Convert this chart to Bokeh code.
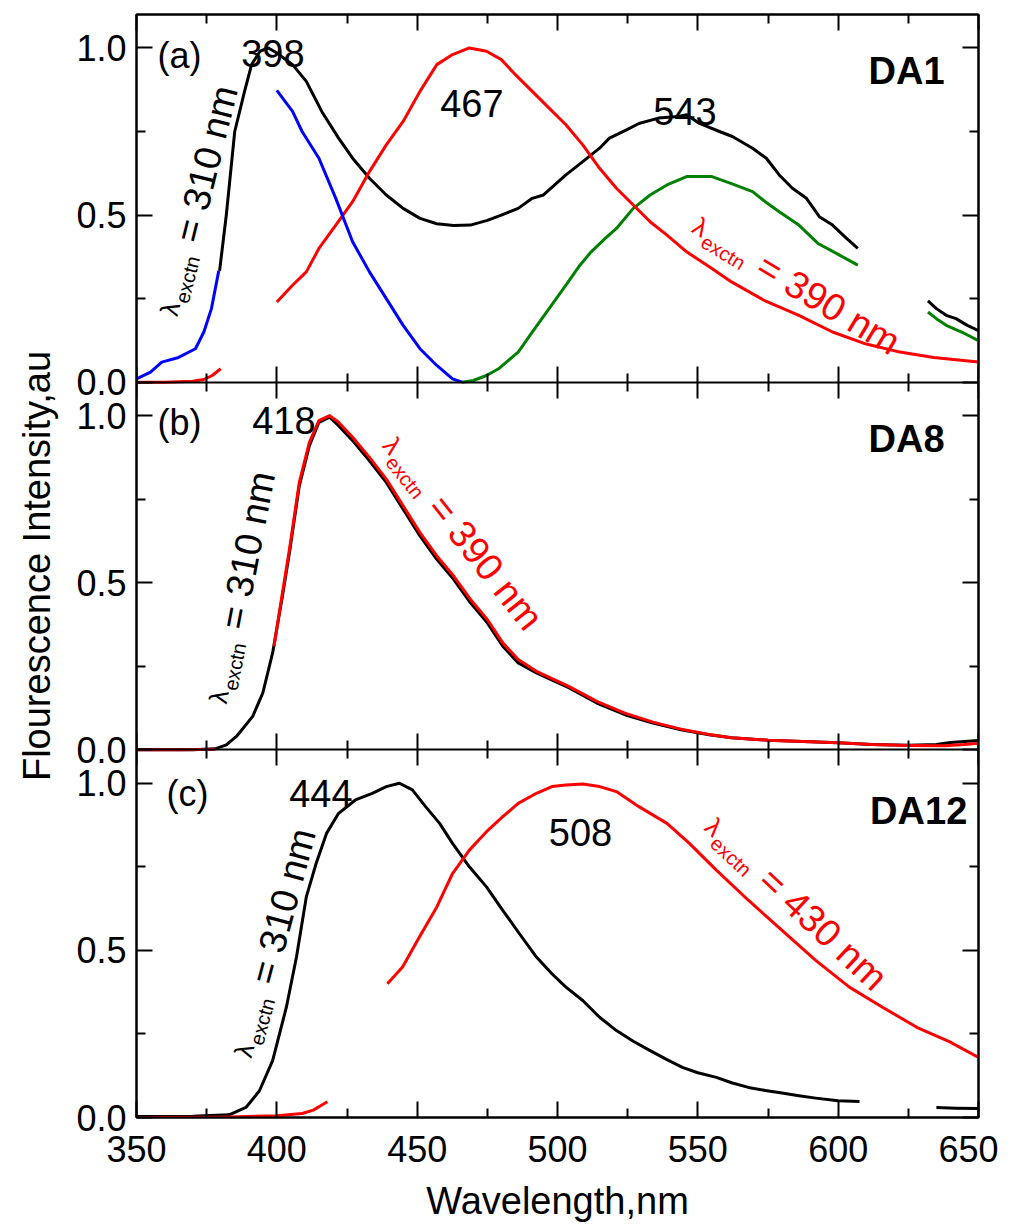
import numpy as np
from bokeh.plotting import figure
from bokeh.models import Range1d, LinearAxis, FixedTicker
from bokeh.core.properties import value
from bokeh.embed import file_html
from bokeh.resources import INLINE

# ---------------- data ----------------
x_major = [350, 400, 450, 500, 550, 600, 650]
x_minor = [375, 425, 475, 525, 575, 625]
y_major_vals = [0.0, 0.5, 1.0]
y_major_text = ["0.0", "0.5", "1.0"]
y_minor_vals = [0.25, 0.75]

# Panel (a) DA1
a_black1_wl = [379.6, 382, 385, 388.5, 391, 394, 397, 400, 405.6, 410.5, 416, 422, 427, 433, 439, 445, 451, 457, 463, 469, 475, 480, 486, 491, 495, 503, 509, 515, 518.5, 524.6, 529, 536, 543, 546, 550.6, 557.7, 562.3, 569.5, 574.4, 579, 583.7, 588.7, 593.3, 598, 603, 607]
a_black1_y = [0.333, 0.5, 0.75, 0.87, 0.95, 0.99, 1.0, 0.985, 0.95, 0.9, 0.81, 0.73, 0.67, 0.61, 0.56, 0.52, 0.49, 0.474, 0.469, 0.47, 0.484, 0.5, 0.52, 0.55, 0.56, 0.62, 0.66, 0.7, 0.73, 0.755, 0.774, 0.79, 0.795, 0.8, 0.774, 0.75, 0.735, 0.7, 0.67, 0.62, 0.58, 0.55, 0.495, 0.47, 0.43, 0.4]
a_black2_wl = [632, 635, 638.5, 642, 646, 650]
a_black2_y = [0.243, 0.22, 0.2, 0.19, 0.17, 0.154]
a_green1_wl = [466, 470, 474.7, 479, 486, 491, 497, 503, 508, 512, 517, 521, 527, 533, 539, 546, 550, 555, 562, 569.5, 574, 579, 586, 593, 600.5, 607]
a_green1_y = [0.0, 0.005, 0.02, 0.04, 0.09, 0.15, 0.22, 0.29, 0.35, 0.39, 0.43, 0.46, 0.52, 0.56, 0.59, 0.615, 0.615, 0.615, 0.594, 0.57, 0.54, 0.51, 0.47, 0.414, 0.38, 0.35]
a_green2_wl = [632, 635, 638.5, 644, 650]
a_green2_y = [0.21, 0.19, 0.17, 0.15, 0.124]
a_blue1_wl = [350, 355, 359, 365, 371, 374, 376.7, 379.3]
a_blue1_y = [0.01, 0.03, 0.06, 0.074, 0.1, 0.15, 0.22, 0.333]
a_blue2_wl = [400, 405.6, 409, 415, 421, 427, 433, 439, 445, 451, 457, 462.6, 466]
a_blue2_y = [0.873, 0.81, 0.75, 0.67, 0.55, 0.42, 0.33, 0.25, 0.17, 0.1, 0.05, 0.01, 0.0]
a_red1_wl = [350, 360, 370, 374, 377, 380]
a_red1_y = [0.0, 0.0, 0.003, 0.008, 0.02, 0.04]
a_red2_wl = [400, 405.6, 410.5, 415, 421, 427, 433, 439, 445, 451, 457, 462.6, 468.6, 474.7, 480, 485, 491, 497, 503, 509, 515, 521, 527, 533, 539, 546, 555, 562, 574, 586, 598, 610, 622, 634, 650]
a_red2_y = [0.24, 0.29, 0.33, 0.4, 0.47, 0.54, 0.63, 0.71, 0.78, 0.87, 0.95, 0.98, 1.0, 0.99, 0.965, 0.92, 0.87, 0.82, 0.77, 0.71, 0.64, 0.58, 0.53, 0.48, 0.44, 0.39, 0.34, 0.3, 0.243, 0.2, 0.15, 0.114, 0.09, 0.074, 0.06]

# Panel (b) DA8
b_black_wl = [350, 370, 378, 382, 385.6, 391.4, 395, 398.5, 402, 404.5, 408, 411.6, 415, 418.8, 422, 427, 433, 439, 445, 451, 457, 463, 469, 475, 480.5, 486, 492.5, 504, 514, 524, 534, 544, 554, 562, 575, 590, 600, 612, 625, 635, 640, 645, 650]
b_black_y = [0.0, 0.0, 0.003, 0.015, 0.04, 0.1, 0.17, 0.29, 0.46, 0.59, 0.79, 0.91, 0.98, 0.995, 0.97, 0.925, 0.865, 0.8, 0.72, 0.64, 0.57, 0.51, 0.44, 0.38, 0.31, 0.26, 0.23, 0.186, 0.14, 0.105, 0.08, 0.06, 0.045, 0.036, 0.029, 0.024, 0.021, 0.016, 0.014, 0.016, 0.022, 0.025, 0.028]
b_red1_wl = [350, 365, 378]
b_red1_y = [0.0, 0.0, 0.002]
b_red2_wl = [399, 402, 404.5, 408, 411.6, 415, 418.8, 422, 427, 433, 439, 445, 451, 457, 463, 469, 475, 480.5, 486, 492.5, 504, 514, 524, 534, 544, 554, 562, 575, 590, 600, 612, 625, 638, 645, 650]
b_red2_y = [0.31, 0.47, 0.6, 0.8, 0.92, 0.985, 1.0, 0.98, 0.935, 0.875, 0.81, 0.73, 0.65, 0.58, 0.52, 0.45, 0.39, 0.32, 0.27, 0.235, 0.19, 0.145, 0.11, 0.083, 0.062, 0.046, 0.036, 0.029, 0.024, 0.021, 0.016, 0.013, 0.012, 0.016, 0.02]

# Panel (c) DA12
c_black1_wl = [350, 370, 383, 389, 393.8, 398.5, 403.4, 407, 410.5, 414, 417.7, 422, 428, 434, 439, 443.7, 448.3, 453, 458, 462.6, 468.6, 474.7, 480.5, 486, 492.5, 498, 503, 509, 515, 521, 527, 533, 539, 544.5, 550, 556.6, 562, 568, 574, 580, 586, 592, 600, 607.6]
c_black1_y = [0.003, 0.004, 0.008, 0.03, 0.08, 0.17, 0.33, 0.48, 0.66, 0.76, 0.85, 0.91, 0.95, 0.97, 0.99, 1.0, 0.98, 0.93, 0.88, 0.82, 0.75, 0.69, 0.62, 0.555, 0.48, 0.43, 0.39, 0.35, 0.30, 0.26, 0.228, 0.2, 0.173, 0.15, 0.134, 0.12, 0.104, 0.09, 0.081, 0.073, 0.065, 0.058, 0.05, 0.048]
c_black2_wl = [635, 642, 650]
c_black2_y = [0.03, 0.028, 0.027]
c_red1_wl = [350, 380, 400, 409, 413, 415, 418]
c_red1_y = [0.0, 0.001, 0.005, 0.012, 0.022, 0.032, 0.047]
c_red2_wl = [439.4, 444.8, 450.8, 457, 462.6, 468.6, 474.7, 480.5, 486, 492.5, 498, 503, 509, 515, 521, 529, 539, 547, 556.6, 568, 580, 592, 604, 615.8, 628, 639.6, 650]
c_red2_y = [0.4, 0.45, 0.54, 0.63, 0.73, 0.8, 0.855, 0.9, 0.94, 0.97, 0.99, 0.995, 0.998, 0.99, 0.975, 0.93, 0.88, 0.82, 0.74, 0.65, 0.56, 0.47, 0.39, 0.33, 0.27, 0.227, 0.18]

# ---------------- layout / style ----------------
SPAN = 1.1
OFF = {"a": 2 * SPAN, "b": SPAN, "c": 0.0}
FONT = "Liberation Sans"
RED, BLACK, BLUE, GREEN = "#ff0000", "#000000", "#0000ff", "#008000"

p = figure(frame_width=842, frame_height=1103,
           x_range=Range1d(350, 650), y_range=Range1d(0, 3 * SPAN),
           output_backend="svg", toolbar_location=None,
           min_border_left=136, min_border_right=20,
           min_border_top=14, min_border_bottom=108)
p.xgrid.visible = False
p.ygrid.visible = False
p.outline_line_color = "black"
p.outline_line_width = 2
p.background_fill_color = "white"
p.border_fill_color = "white"

xt = FixedTicker(ticks=x_major, minor_ticks=x_minor)
yt_vals, yt_minor, overrides = [], [], {}
for off in (0.0, SPAN, 2 * SPAN):
    for v, t in zip(y_major_vals, y_major_text):
        k = round(off + v, 3)
        yt_vals.append(k)
        overrides[k] = t
    for v in y_minor_vals:
        yt_minor.append(round(off + v, 3))
yt = FixedTicker(ticks=yt_vals, minor_ticks=yt_minor)


def style_axis(ax, labels, tin=16, tout=0, mtin=9, mtout=0):
    ax.axis_line_width = 2
    ax.axis_line_color = "black"
    ax.major_tick_in = tin
    ax.major_tick_out = tout
    ax.minor_tick_in = mtin
    ax.minor_tick_out = mtout
    ax.major_tick_line_width = 2
    ax.minor_tick_line_width = 2
    ax.major_tick_line_color = "black"
    ax.minor_tick_line_color = "black"
    if labels:
        ax.major_label_text_font = FONT
        ax.major_label_text_font_size = "36px"
        ax.major_label_text_color = "black"
    else:
        ax.major_label_text_color = None
        ax.major_label_text_font_size = "0px"
        ax.major_label_standoff = 0


xb = p.xaxis[0]
xb.ticker = xt
style_axis(xb, True)
xb.major_label_standoff = 18
xb.axis_label = "Wavelength,nm"
xb.axis_label_text_font = FONT
xb.axis_label_text_font_size = "38px"
xb.axis_label_text_font_style = "normal"
xb.axis_label_text_color = "black"
xb.axis_label_standoff = 15

yl = p.yaxis[0]
yl.ticker = yt
style_axis(yl, True)
yl.major_label_overrides = overrides
yl.major_label_standoff = 10
yl.axis_label = "Flourescence Intensity,au"
yl.axis_label_text_font = FONT
yl.axis_label_text_font_size = "38px"
yl.axis_label_text_font_style = "normal"
yl.axis_label_text_color = "black"
yl.axis_label_standoff = 15

xa = LinearAxis(ticker=xt)
style_axis(xa, False)
p.add_layout(xa, "above")

yr = LinearAxis(ticker=yt)
style_axis(yr, False)
p.add_layout(yr, "right")

# panel borders with mirrored ticks on both sides
for loc in (SPAN, 2 * SPAN):
    ax = LinearAxis(ticker=xt, fixed_location=loc)
    style_axis(ax, False, tin=16, tout=16, mtin=9, mtout=9)
    p.add_layout(ax, "below")

# ---------------- curves ----------------
curves = [
    (a_black1_wl, a_black1_y, BLACK, "a"), (a_black2_wl, a_black2_y, BLACK, "a"),
    (a_green1_wl, a_green1_y, GREEN, "a"), (a_green2_wl, a_green2_y, GREEN, "a"),
    (a_red1_wl, a_red1_y, RED, "a"), (a_red2_wl, a_red2_y, RED, "a"),
    (a_blue1_wl, a_blue1_y, BLUE, "a"), (a_blue2_wl, a_blue2_y, BLUE, "a"),
    (b_black_wl, b_black_y, BLACK, "b"),
    (b_red1_wl, b_red1_y, RED, "b"), (b_red2_wl, b_red2_y, RED, "b"),
    (c_black1_wl, c_black1_y, BLACK, "c"), (c_black2_wl, c_black2_y, BLACK, "c"),
    (c_red1_wl, c_red1_y, RED, "c"), (c_red2_wl, c_red2_y, RED, "c"),
]
for wl, yy, col, pan in curves:
    p.line(x=wl, y=list(np.asarray(yy) + OFF[pan]), line_color=col, line_width=3,
           line_join="round")

# ---------------- annotations ----------------
def txt(x, y, pan, s, size="38px", align="center", style="normal", color="black"):
    p.text(x=[x], y=[y + OFF[pan]], text=[s], text_font=value(FONT),
           text_font_size=size, text_align=align, text_baseline="alphabetic",
           text_font_style=style, text_color=color)

txt(357.5, 0.978, "a", "(a)", size="36px", align="left")
txt(398.6, 0.984, "a", "398")
txt(469.5, 0.834, "a", "467")
txt(545.4, 0.81, "a", "543")
txt(637.9, 0.93, "a", "DA1", align="right", style="bold")

txt(357.5, 0.978, "b", "(b)", size="36px", align="left")
txt(402.5, 0.984, "b", "418")
txt(637.9, 0.93, "b", "DA8", align="right", style="bold")

txt(360.7, 0.968, "c", "(c)", size="36px", align="left")
txt(415.7, 0.968, "c", "444")
txt(508.2, 0.854, "c", "508")
txt(646.0, 0.917, "c", "DA12", align="right", style="bold")


def rot_label(x, y, pan, theta_deg, color, main):
    th = np.radians(theta_deg)
    c, s = np.cos(th), np.sin(th)
    pieces = [("\u03bb", "26px", 0, 0), ("exctn", "20px", 15, 10), (main, "38px", 76, 0)]
    for t, fs, al, dn in pieces:
        xo = al * c + dn * s
        yo = -al * s + dn * c
        p.text(x=[x], y=[y + OFF[pan]], text=[t], angle=th, x_offset=xo, y_offset=yo,
               text_font=value(FONT), text_font_size=fs, text_align="left",
               text_baseline="alphabetic", text_color=color)

rot_label(361.4, 0.201, "a", 76, BLACK, "= 310 nm")
rot_label(378.9, 0.14, "b", 79, BLACK, "= 310 nm")
rot_label(387.8, 0.182, "c", 75, BLACK, "= 310 nm")
rot_label(549.0, 0.474, "a", -31, RED, "= 390 nm")
rot_label(439.8, 0.925, "b", -51.5, RED, "= 390 nm")
rot_label(554.1, 0.882, "c", -43, RED, "= 430 nm")

open("out.html", "w").write(file_html(p, INLINE))
